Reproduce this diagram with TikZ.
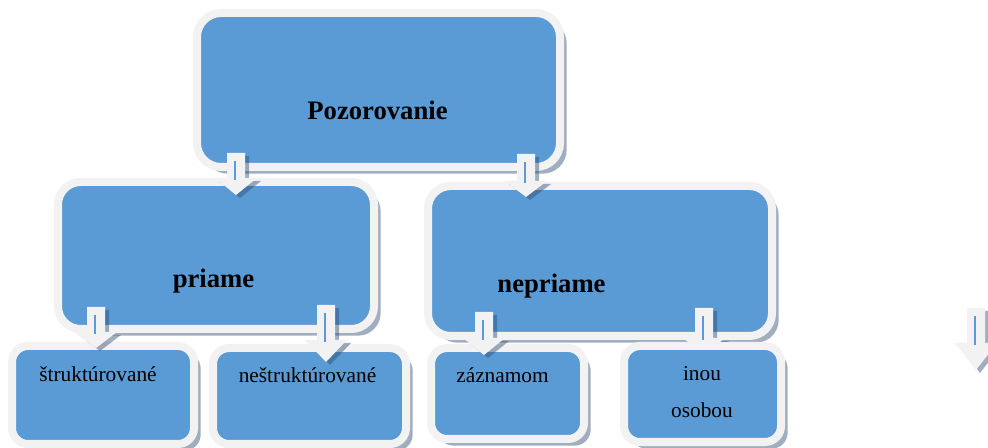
\documentclass[tikz,border=0pt]{standalone}
\usepackage{fontspec}
\setmainfont{Liberation Serif}
\usepackage{xcolor}
\definecolor{boxblue}{RGB}{91,155,213}
\definecolor{boxrim}{RGB}{242,242,242}
\definecolor{boxshade}{RGB}{45,75,115}
\usepackage{tikz}
\usetikzlibrary{positioning,shadows}

\newcommand{\arrowshape}[4]{({#1-9},#2) -- ({#1+9},#2) -- ({#1+9},#3) -- ({#1+21},#3) -- (#1,#4) -- ({#1-21},#3) -- ({#1-9},#3) -- cycle}
\newcommand{\downblock}[4]{%
  \fill[arrowshade] \arrowshape{#1}{#2}{#3}{#4};
  \fill[boxrim] \arrowshape{#1}{#2}{#3}{#4};
  \draw[arrowline] ({#1-1},{#2+8}) -- ({#1-1},{#3+2});
}

\tikzset{
  blockbox/.style={rectangle,fill=boxblue,draw=boxrim,line width=6pt,inner sep=0pt,
    drop shadow={shadow xshift=5pt,shadow yshift=-5pt,fill=boxshade,opacity=.45}},
  headtext/.style={font=\fontsize{20}{24}\selectfont\bfseries,anchor=base,inner sep=0pt},
  leaftext/.style={font=\fontsize{16}{19}\selectfont,anchor=base,inner sep=0pt},
  arrowshade/.style={boxshade,opacity=.45,shift={(4,3)}},
  arrowline/.style={boxblue,line width=1.3pt}
}

\begin{document}
\begin{tikzpicture}[x=0.75pt,y=-0.75pt]
  \useasboundingbox (0,0) rectangle (988,448);

  \node[blockbox,rounded corners=18pt,minimum width=272.25pt,minimum height=115.5pt] (poz) at (378.5,90) {};
  \node[blockbox,rounded corners=17pt,minimum width=237pt,minimum height=110.25pt] (priame) at (216,255.5) {};
  \node[blockbox,rounded corners=17pt,minimum width=258pt,minimum height=112.5pt] (nepriame) at (600,261) {};

  \downblock{236}{153}{178}{195}
  \downblock{526}{154}{181}{197}

  \node[blockbox,rounded corners=12pt,minimum width=136.5pt,minimum height=73.5pt] (strukt) at (103,395) {};
  \node[blockbox,rounded corners=12pt,minimum width=144.75pt,minimum height=72pt] (nestrukt) at (309.5,396) {};
  \node[blockbox,rounded corners=12pt,minimum width=114.75pt,minimum height=68.25pt] (zaznam) at (507.5,393.5) {};

  \downblock{96}{307}{332}{348}
  \downblock{326}{305}{340}{362}
  \downblock{484}{312}{338}{355}
  \downblock{704}{308}{338}{355}

  \node[blockbox,rounded corners=12pt,minimum width=117.75pt,minimum height=72pt] (inou) at (702.5,394) {};

  \downblock{976}{308}{343}{370}

  \node[headtext] (tpoz) at (377.5,120) {Pozorovanie};
  \node[headtext] (tpriame) at (213.5,288) {priame};
  \node[headtext] (tnepriame) at (551.5,293) {nepriame};
  \node[leaftext] (tstrukt) at (98,382) {štruktúrované};
  \node[leaftext] (tnestrukt) at (307.5,383) {neštruktúrované};
  \node[leaftext] (tzaznam) at (502.5,383) {záznamom};
  \node[leaftext] (tinou) at (702,381) {inou};
  \node[leaftext] (tosobou) at (702,418) {osobou};
\end{tikzpicture}
\end{document}
